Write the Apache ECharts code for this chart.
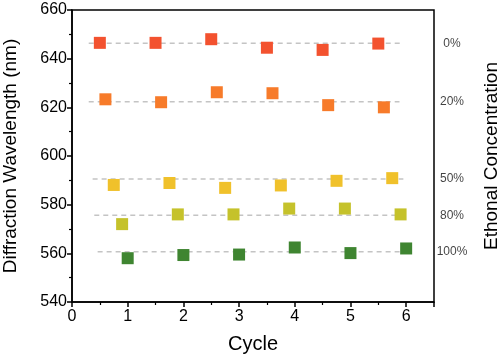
<!DOCTYPE html>
<html><head><meta charset="utf-8">
<script src="https://cdn.jsdelivr.net/npm/echarts@6/dist/echarts.min.js"></script>
<style>html,body{margin:0;padding:0;background:#fff}#c{width:498px;height:359px}</style>
</head><body><div id="c"></div>
<script>
var concentrations = ['0%', '20%', '50%', '80%', '100%'];
var colors = ['#f3522f', '#f77b2a', '#f0c12b', '#c5c22b', '#3f8531'];
var x0 = [0.5, 1.5, 2.5, 3.5, 4.5, 5.5];
var x20 = [0.6, 1.6, 2.6, 3.6, 4.6, 5.6];
var x50 = [0.75, 1.75, 2.75, 3.75, 4.75, 5.75];
var x80 = [0.9, 1.9, 2.9, 3.9, 4.9, 5.9];
var x100 = [1, 2, 3, 4, 5, 6];
var y0 = [646.5, 646.5, 648.0, 644.5, 643.6, 646.2];
var y20 = [623.3, 622.1, 626.2, 625.8, 620.9, 620.0];
var y50 = [588.1, 588.9, 586.9, 587.9, 589.8, 590.9];
var y80 = [572.0, 576.0, 576.0, 578.4, 578.4, 576.0];
var y100 = [558.0, 559.3, 559.5, 562.4, 560.1, 562.0];
var refLevels = [646.3, 622.3, 590.5, 575.6, 560.7];
var refStart = [0.3, 0.3, 0.37, 0.4, 0.46];
var refEnd = [5.92, 5.88, 5.95, 6.0, 6.0];
var xTicks = [0, 1, 2, 3, 4, 5, 6];
var yTicks = [540, 560, 580, 600, 620, 640, 660];

var xs = [x0, x20, x50, x80, x100];
var ys = [y0, y20, y50, y80, y100];
var X_MAX = 6.5;
var font = 'Liberation Sans, Arial, sans-serif';

var series = [];
concentrations.forEach(function (c, i) {
  series.push({
    type: 'line', name: 'ref' + c, silent: true, symbol: 'none', z: 1,
    data: [[refStart[i], refLevels[i]], [refEnd[i], refLevels[i]]],
    lineStyle: { color: '#c4c4c4', width: 1.5, type: [5, 4] }
  });
});
concentrations.forEach(function (c, i) {
  series.push({
    type: 'scatter', name: c, symbol: 'rect', symbolSize: 12, z: 3,
    itemStyle: { color: colors[i], opacity: 1 },
    data: xs[i].map(function (x, k) { return [x, ys[i][k]]; })
  });
});
series.push({
  type: 'scatter', name: 'labels', symbolSize: 0, silent: true, clip: false,
  data: concentrations.map(function (c, i) { return { value: [X_MAX, refLevels[i]], name: c }; }),
  label: { show: true, position: 'inside', offset: [18, 0], formatter: '{b}', color: '#111', fontSize: 12, fontFamily: font }
});

var chart = echarts.init(document.getElementById('c'));
chart.setOption({
  animation: false,
  backgroundColor: '#fff',
  grid: { left: 72, right: 64, top: 10, bottom: 57, outerBoundsMode: 'none', containLabel: false,
    show: true, borderColor: '#000', borderWidth: 1.5, backgroundColor: 'transparent' },
  xAxis: {
    type: 'value', min: xTicks[0], max: X_MAX, interval: 1,
    name: 'Cycle', nameLocation: 'middle', nameGap: 32,
    nameTextStyle: { fontSize: 20, color: '#000', fontFamily: font },
    axisLine: { show: true, lineStyle: { color: '#000', width: 1.5 } },
    axisTick: { show: true, length: 5, inside: false, lineStyle: { color: '#000', width: 1.5 } },
    minorTick: { show: true, splitNumber: 2, length: 3, lineStyle: { color: '#000', width: 1.2 } },
    axisLabel: { fontSize: 16, color: '#000', fontFamily: font, margin: 7,
      formatter: function (v) { return xTicks.indexOf(v) >= 0 ? String(v) : ''; } },
    splitLine: { show: false }
  },
  yAxis: [{
    type: 'value', min: yTicks[0], max: yTicks[yTicks.length - 1], interval: 20,
    name: 'Diffraction Wavelength (nm)', nameLocation: 'middle', nameGap: 52,
    nameTextStyle: { fontSize: 19, color: '#000', fontFamily: font },
    axisLine: { show: true, lineStyle: { color: '#000', width: 1.5 } },
    axisTick: { show: true, length: 5, lineStyle: { color: '#000', width: 1.5 } },
    minorTick: { show: true, splitNumber: 2, length: 3, lineStyle: { color: '#000', width: 1.2 } },
    axisLabel: { fontSize: 16, color: '#000', fontFamily: font, margin: 5 },
    splitLine: { show: false }
  }, {
    type: 'value', position: 'right', min: yTicks[0], max: yTicks[yTicks.length - 1],
    name: 'Ethonal Concentration', nameLocation: 'middle', nameGap: 48, nameRotate: 90,
    nameTextStyle: { fontSize: 19, color: '#000', fontFamily: font },
    axisLine: { show: false }, axisTick: { show: false }, axisLabel: { show: false }, splitLine: { show: false }
  }],
  series: series
});
</script></body></html>
